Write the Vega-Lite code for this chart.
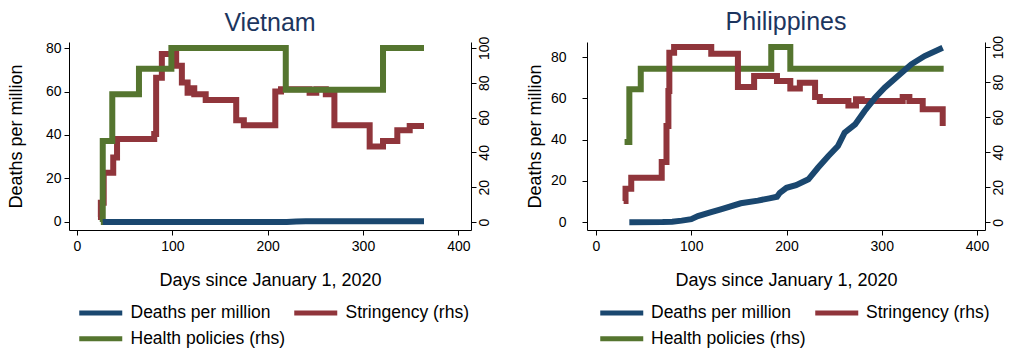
{
  "$schema": "https://vega.github.io/schema/vega-lite/v6.json",
  "background": "white",
  "padding": {"left": 7, "top": 10, "right": 0, "bottom": 0},
  "config": {
    "font": "Liberation Sans",
    "view": {"stroke": null},
    "axis": {"grid": false, "domainColor": "#000000", "tickColor": "#000000", "labelColor": "#000000", "titleColor": "#000000", "labelFontSize": 14, "titleFontSize": 18, "titleFontWeight": "normal", "tickSize": 5, "labelFont": "Liberation Sans", "titleFont": "Liberation Sans"},
    "title": {"fontSize": 25, "fontWeight": "normal", "color": "#1c355e", "font": "Liberation Sans"},
    "legend": {"labelFont": "Liberation Sans", "labelFontSize": 17.5, "labelColor": "#000000", "labelLimit": 400}
  },
  "datasets": {
    "d": [
      {"country": "Vietnam", "series": "Stringency (rhs)", "day": 22, "value": 2.8},
      {"country": "Vietnam", "series": "Stringency (rhs)", "day": 25, "value": 11.1},
      {"country": "Vietnam", "series": "Stringency (rhs)", "day": 28, "value": 28.3},
      {"country": "Vietnam", "series": "Stringency (rhs)", "day": 38, "value": 37},
      {"country": "Vietnam", "series": "Stringency (rhs)", "day": 42, "value": 47.7},
      {"country": "Vietnam", "series": "Stringency (rhs)", "day": 81, "value": 50.6},
      {"country": "Vietnam", "series": "Stringency (rhs)", "day": 83, "value": 82.9},
      {"country": "Vietnam", "series": "Stringency (rhs)", "day": 89, "value": 96.5},
      {"country": "Vietnam", "series": "Stringency (rhs)", "day": 104, "value": 89.8},
      {"country": "Vietnam", "series": "Stringency (rhs)", "day": 110, "value": 80.1},
      {"country": "Vietnam", "series": "Stringency (rhs)", "day": 116, "value": 74.3},
      {"country": "Vietnam", "series": "Stringency (rhs)", "day": 119, "value": 76.8},
      {"country": "Vietnam", "series": "Stringency (rhs)", "day": 123, "value": 73.4},
      {"country": "Vietnam", "series": "Stringency (rhs)", "day": 135, "value": 70.1},
      {"country": "Vietnam", "series": "Stringency (rhs)", "day": 167, "value": 58.4},
      {"country": "Vietnam", "series": "Stringency (rhs)", "day": 175, "value": 55.6},
      {"country": "Vietnam", "series": "Stringency (rhs)", "day": 208, "value": 74.9},
      {"country": "Vietnam", "series": "Stringency (rhs)", "day": 214, "value": 76.2},
      {"country": "Vietnam", "series": "Stringency (rhs)", "day": 244, "value": 74.3},
      {"country": "Vietnam", "series": "Stringency (rhs)", "day": 251, "value": 76.2},
      {"country": "Vietnam", "series": "Stringency (rhs)", "day": 261, "value": 73.4},
      {"country": "Vietnam", "series": "Stringency (rhs)", "day": 270, "value": 55.6},
      {"country": "Vietnam", "series": "Stringency (rhs)", "day": 307, "value": 43.3},
      {"country": "Vietnam", "series": "Stringency (rhs)", "day": 321, "value": 46.5},
      {"country": "Vietnam", "series": "Stringency (rhs)", "day": 336, "value": 52.7},
      {"country": "Vietnam", "series": "Stringency (rhs)", "day": 349, "value": 55.2},
      {"country": "Vietnam", "series": "Stringency (rhs)", "day": 364, "value": 55.2},
      {"country": "Vietnam", "series": "Health policies (rhs)", "day": 25, "value": 0},
      {"country": "Vietnam", "series": "Health policies (rhs)", "day": 27, "value": 46.5},
      {"country": "Vietnam", "series": "Health policies (rhs)", "day": 37, "value": 73.4},
      {"country": "Vietnam", "series": "Health policies (rhs)", "day": 65, "value": 88},
      {"country": "Vietnam", "series": "Health policies (rhs)", "day": 99, "value": 100},
      {"country": "Vietnam", "series": "Health policies (rhs)", "day": 219, "value": 75.9},
      {"country": "Vietnam", "series": "Health policies (rhs)", "day": 321, "value": 100},
      {"country": "Vietnam", "series": "Health policies (rhs)", "day": 364, "value": 100},
      {"country": "Vietnam", "series": "Deaths per million", "day": 27, "value": 0},
      {"country": "Vietnam", "series": "Deaths per million", "day": 210, "value": 0},
      {"country": "Vietnam", "series": "Deaths per million", "day": 220, "value": 0.03},
      {"country": "Vietnam", "series": "Deaths per million", "day": 230, "value": 0.2},
      {"country": "Vietnam", "series": "Deaths per million", "day": 240, "value": 0.3},
      {"country": "Vietnam", "series": "Deaths per million", "day": 250, "value": 0.35},
      {"country": "Vietnam", "series": "Deaths per million", "day": 364, "value": 0.36},
      {"country": "Philippines", "series": "Health policies (rhs)", "day": 30, "value": 45.8},
      {"country": "Philippines", "series": "Health policies (rhs)", "day": 35, "value": 75.9},
      {"country": "Philippines", "series": "Health policies (rhs)", "day": 47, "value": 87.6},
      {"country": "Philippines", "series": "Health policies (rhs)", "day": 184, "value": 100},
      {"country": "Philippines", "series": "Health policies (rhs)", "day": 204, "value": 87.6},
      {"country": "Philippines", "series": "Health policies (rhs)", "day": 365, "value": 87.6},
      {"country": "Philippines", "series": "Stringency (rhs)", "day": 29, "value": 12.2},
      {"country": "Philippines", "series": "Stringency (rhs)", "day": 31, "value": 19.2},
      {"country": "Philippines", "series": "Stringency (rhs)", "day": 37, "value": 25.4},
      {"country": "Philippines", "series": "Stringency (rhs)", "day": 69, "value": 34.4},
      {"country": "Philippines", "series": "Stringency (rhs)", "day": 74, "value": 55},
      {"country": "Philippines", "series": "Stringency (rhs)", "day": 76, "value": 75},
      {"country": "Philippines", "series": "Stringency (rhs)", "day": 77, "value": 96.8},
      {"country": "Philippines", "series": "Stringency (rhs)", "day": 82, "value": 100},
      {"country": "Philippines", "series": "Stringency (rhs)", "day": 121, "value": 96.2},
      {"country": "Philippines", "series": "Stringency (rhs)", "day": 149, "value": 77.2},
      {"country": "Philippines", "series": "Stringency (rhs)", "day": 166, "value": 83.5},
      {"country": "Philippines", "series": "Stringency (rhs)", "day": 190, "value": 80.6},
      {"country": "Philippines", "series": "Stringency (rhs)", "day": 204, "value": 76.4},
      {"country": "Philippines", "series": "Stringency (rhs)", "day": 214, "value": 79.6},
      {"country": "Philippines", "series": "Stringency (rhs)", "day": 230, "value": 71.5},
      {"country": "Philippines", "series": "Stringency (rhs)", "day": 235, "value": 69.2},
      {"country": "Philippines", "series": "Stringency (rhs)", "day": 265, "value": 66.7},
      {"country": "Philippines", "series": "Stringency (rhs)", "day": 273, "value": 70.2},
      {"country": "Philippines", "series": "Stringency (rhs)", "day": 279, "value": 69.2},
      {"country": "Philippines", "series": "Stringency (rhs)", "day": 322, "value": 71.5},
      {"country": "Philippines", "series": "Stringency (rhs)", "day": 329, "value": 69.2},
      {"country": "Philippines", "series": "Stringency (rhs)", "day": 343, "value": 64.5},
      {"country": "Philippines", "series": "Stringency (rhs)", "day": 364, "value": 55},
      {"country": "Philippines", "series": "Deaths per million", "day": 35, "value": 0},
      {"country": "Philippines", "series": "Deaths per million", "day": 70, "value": 0.1},
      {"country": "Philippines", "series": "Deaths per million", "day": 80, "value": 0.3},
      {"country": "Philippines", "series": "Deaths per million", "day": 90, "value": 0.8},
      {"country": "Philippines", "series": "Deaths per million", "day": 100, "value": 1.5},
      {"country": "Philippines", "series": "Deaths per million", "day": 107, "value": 3},
      {"country": "Philippines", "series": "Deaths per million", "day": 120, "value": 4.8},
      {"country": "Philippines", "series": "Deaths per million", "day": 131, "value": 6.3},
      {"country": "Philippines", "series": "Deaths per million", "day": 152, "value": 9.2},
      {"country": "Philippines", "series": "Deaths per million", "day": 170, "value": 10.5},
      {"country": "Philippines", "series": "Deaths per million", "day": 182, "value": 11.6},
      {"country": "Philippines", "series": "Deaths per million", "day": 190, "value": 12.4},
      {"country": "Philippines", "series": "Deaths per million", "day": 193, "value": 14.3},
      {"country": "Philippines", "series": "Deaths per million", "day": 200, "value": 16.7},
      {"country": "Philippines", "series": "Deaths per million", "day": 210, "value": 18},
      {"country": "Philippines", "series": "Deaths per million", "day": 223, "value": 20.8},
      {"country": "Philippines", "series": "Deaths per million", "day": 233, "value": 26.4},
      {"country": "Philippines", "series": "Deaths per million", "day": 244, "value": 32.1},
      {"country": "Philippines", "series": "Deaths per million", "day": 254, "value": 36.9},
      {"country": "Philippines", "series": "Deaths per million", "day": 261, "value": 43.4},
      {"country": "Philippines", "series": "Deaths per million", "day": 272, "value": 47.4},
      {"country": "Philippines", "series": "Deaths per million", "day": 282, "value": 53.9},
      {"country": "Philippines", "series": "Deaths per million", "day": 293, "value": 60.3},
      {"country": "Philippines", "series": "Deaths per million", "day": 303, "value": 65.2},
      {"country": "Philippines", "series": "Deaths per million", "day": 317, "value": 70.8},
      {"country": "Philippines", "series": "Deaths per million", "day": 331, "value": 76.5},
      {"country": "Philippines", "series": "Deaths per million", "day": 345, "value": 80.5},
      {"country": "Philippines", "series": "Deaths per million", "day": 364, "value": 84.5}
    ]
  },
  "spacing": 35,
  "resolve": {"legend": {"color": "independent"}},
  "hconcat": [
    {
      "width": 402,
      "height": 188,
      "title": {"text": "Vietnam", "anchor": "middle", "offset": 0},
      "data": {"name": "d"},
      "transform": [{"filter": "datum.country === 'Vietnam'"}],
      "encoding": {
        "x": {"field": "day", "type": "quantitative", "scale": {"domain": [-8.4, 413.3], "nice": false, "zero": false}, "axis": {"values": [0, 100, 200, 300, 400], "title": "Days since January 1, 2020", "titlePadding": 18, "labelPadding": 4}}
      },
      "layer": [
        {
          "transform": [{"filter": "datum.series !== 'Deaths per million'"}],
          "mark": {"type": "line", "interpolate": "step-after", "strokeWidth": 6},
          "encoding": {
            "y": {"field": "value", "type": "quantitative", "scale": {"domain": [-4.6, 103.4], "nice": false, "zero": false}, "axis": {"orient": "right", "values": [0, 20, 40, 60, 80, 100], "title": null, "labelAngle": 270, "labelAlign": "center", "labelBaseline": "top", "labelPadding": 1}},
            "color": {"field": "series", "type": "nominal", "scale": {"domain": ["Deaths per million", "Stringency (rhs)", "Health policies (rhs)"], "range": ["#1a476f", "#90353b", "#55752f"]}, "legend": {"title": null, "orient": "none", "direction": "horizontal", "columns": 2, "legendX": 1.5, "legendY": 262, "symbolType": "M0,0H8", "symbolSize": 115.6, "symbolStrokeWidth": 5, "labelOffset": 42.5, "columnPadding": -2, "rowPadding": 5, "values": ["Deaths per million", "Stringency (rhs)", "Health policies (rhs)"]}}
          }
        },
        {
          "transform": [{"filter": "datum.series === 'Deaths per million'"}],
          "mark": {"type": "line", "strokeWidth": 6},
          "encoding": {
            "y": {"field": "value", "type": "quantitative", "scale": {"domain": [-3.68, 82.76], "nice": false, "zero": false}, "axis": {"orient": "left", "values": [0, 20, 40, 60, 80], "title": "Deaths per million", "titlePadding": 20, "labelPadding": 3}},
            "color": {"field": "series", "type": "nominal", "scale": {"domain": ["Deaths per million", "Stringency (rhs)", "Health policies (rhs)"], "range": ["#1a476f", "#90353b", "#55752f"]}, "legend": {"title": null, "orient": "none", "direction": "horizontal", "columns": 2, "legendX": 1.5, "legendY": 262, "symbolType": "M0,0H8", "symbolSize": 115.6, "symbolStrokeWidth": 5, "labelOffset": 42.5, "columnPadding": -2, "rowPadding": 5, "values": ["Deaths per million", "Stringency (rhs)", "Health policies (rhs)"]}}
          }
        }
      ],
      "resolve": {"scale": {"y": "independent"}}
    },
    {
      "width": 398,
      "height": 188,
      "title": {"text": "Philippines", "anchor": "middle", "offset": 0},
      "data": {"name": "d"},
      "transform": [{"filter": "datum.country === 'Philippines'"}],
      "encoding": {
        "x": {"field": "day", "type": "quantitative", "scale": {"domain": [-9.45, 408.4], "nice": false, "zero": false}, "axis": {"values": [0, 100, 200, 300, 400], "title": "Days since January 1, 2020", "titlePadding": 18, "labelPadding": 4}}
      },
      "layer": [
        {
          "transform": [{"filter": "datum.series !== 'Deaths per million'"}],
          "mark": {"type": "line", "interpolate": "step-after", "strokeWidth": 6},
          "encoding": {
            "y": {"field": "value", "type": "quantitative", "scale": {"domain": [-4.4, 102.9], "nice": false, "zero": false}, "axis": {"orient": "right", "values": [0, 20, 40, 60, 80, 100], "title": null, "labelAngle": 270, "labelAlign": "center", "labelBaseline": "top", "labelPadding": 1}},
            "color": {"field": "series", "type": "nominal", "scale": {"domain": ["Deaths per million", "Stringency (rhs)", "Health policies (rhs)"], "range": ["#1a476f", "#90353b", "#55752f"]}, "legend": {"title": null, "orient": "none", "direction": "horizontal", "columns": 2, "legendX": 4.5, "legendY": 262, "symbolType": "M0,0H8", "symbolSize": 115.6, "symbolStrokeWidth": 5, "labelOffset": 42, "columnPadding": -2, "rowPadding": 5, "values": ["Deaths per million", "Stringency (rhs)", "Health policies (rhs)"]}}
          }
        },
        {
          "transform": [{"filter": "datum.series === 'Deaths per million'"}],
          "mark": {"type": "line", "strokeWidth": 6},
          "encoding": {
            "y": {"field": "value", "type": "quantitative", "scale": {"domain": [-3.73, 87.3], "nice": false, "zero": false}, "axis": {"orient": "left", "values": [0, 20, 40, 60, 80], "title": "Deaths per million", "titlePadding": 6, "labelPadding": 16}},
            "color": {"field": "series", "type": "nominal", "scale": {"domain": ["Deaths per million", "Stringency (rhs)", "Health policies (rhs)"], "range": ["#1a476f", "#90353b", "#55752f"]}, "legend": {"title": null, "orient": "none", "direction": "horizontal", "columns": 2, "legendX": 4.5, "legendY": 262, "symbolType": "M0,0H8", "symbolSize": 115.6, "symbolStrokeWidth": 5, "labelOffset": 42, "columnPadding": -2, "rowPadding": 5, "values": ["Deaths per million", "Stringency (rhs)", "Health policies (rhs)"]}}
          }
        }
      ],
      "resolve": {"scale": {"y": "independent"}}
    }
  ]
}
